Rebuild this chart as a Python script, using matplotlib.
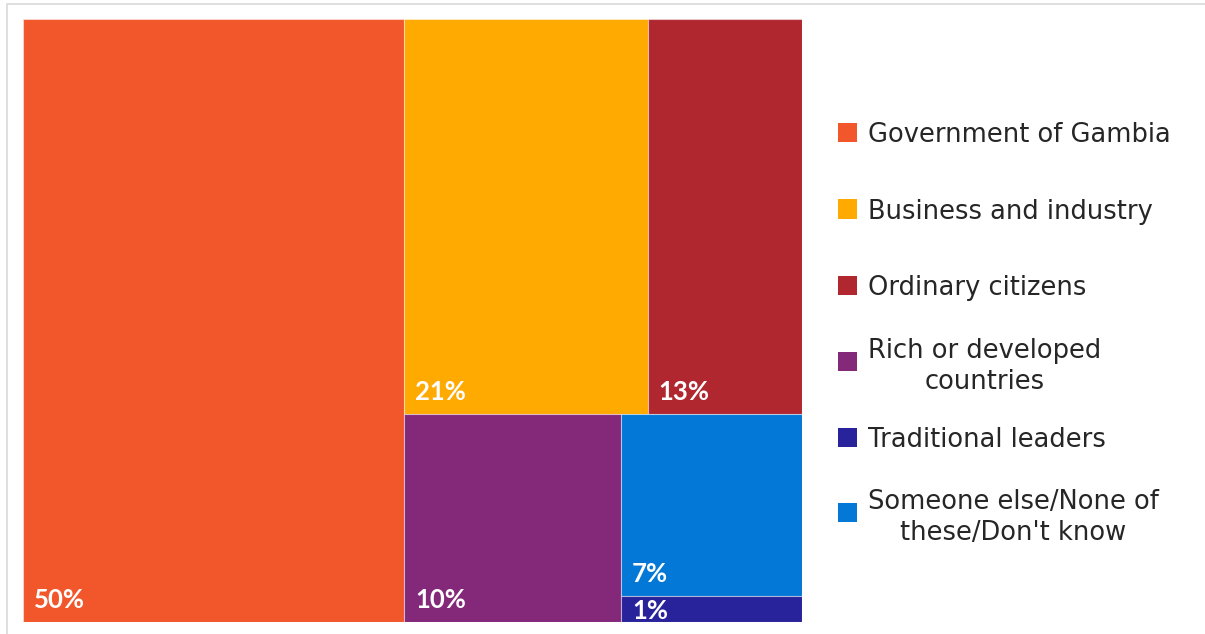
import matplotlib
matplotlib.use("Agg")
import matplotlib.pyplot as plt
from matplotlib.patches import Rectangle

categories = ["Government of Gambia", "Business and industry", "Ordinary citizens",
              "Rich or developed\ncountries", "Traditional leaders",
              "Someone else/None of\nthese/Don't know"]
values = [49.0, 20.5, 13.0, 9.6, 1.0, 7.0]
labels = ["50%", "21%", "13%", "10%", "1%", "7%"]
colors = ["#F1572A", "#FFAA00", "#B1272F", "#84287A", "#29239B", "#0478D7"]
# nested grouping of the treemap (indices into the lists above)
groups = (0, ((1, 2), (3, (5, 4))))

W, H = 1205, 634
fig = plt.figure(figsize=(W / 100, H / 100), dpi=100)
fig.patches.append(Rectangle((7 / W, -0.01), 1.01 - 7 / W, 1 - 4 / H + 0.01,
                             transform=fig.transFigure, fill=False,
                             edgecolor="#D9D9D9", linewidth=1.2))

ax = fig.add_axes([23 / W, 12 / H, 779 / W, 603 / H])
aw, ah = 779.0, 603.0
ax.set_xlim(0, aw)
ax.set_ylim(0, ah)
ax.axis("off")


def total(g):
    if isinstance(g, int):
        return values[g]
    return sum(total(s) for s in g)


rects = {}


def layout(g, x, y, w, h):
    if isinstance(g, int):
        rects[g] = (x, y, w, h)
        return
    a, b = g
    fa = total(a) / total(g)
    if w >= h:
        layout(a, x, y, w * fa, h)
        layout(b, x + w * fa, y, w * (1 - fa), h)
    else:
        layout(a, x, y + h * (1 - fa), w, h * fa)
        layout(b, x, y, w, h * (1 - fa))


layout(groups, 0, 0, aw, ah)

for i, (x, y, w, h) in rects.items():
    ax.add_patch(Rectangle((x, y), w, h, facecolor=colors[i],
                           edgecolor=(1, 1, 1, 0.45), linewidth=0.8))
    if h > 40:
        ax.text(x + 11, y + 14, labels[i], color="white", fontsize=18.5,
                fontweight="bold", family="Lato", ha="left", va="baseline")
    else:
        ax.text(x + 11, y + h - 3, labels[i], color="white", fontsize=18.5,
                fontweight="bold", family="Lato", ha="left", va="top",
                clip_on=False)

# legend
leg_y = [132, 209, 285, 361, 437, 512]
for i, yy in enumerate(leg_y):
    fy = 1 - yy / H
    fig.patches.append(Rectangle((838 / W, fy - 9.5 / H), 19 / W, 19 / H,
                                 transform=fig.transFigure, facecolor=colors[i],
                                 edgecolor="none"))
    fig.text(868 / W, fy, categories[i], fontsize=18.5, family="DejaVu Sans",
             color="#262626", ha="left", va="center_baseline",
             multialignment="center", linespacing=1.25)

fig.savefig("out.png", dpi=100)
